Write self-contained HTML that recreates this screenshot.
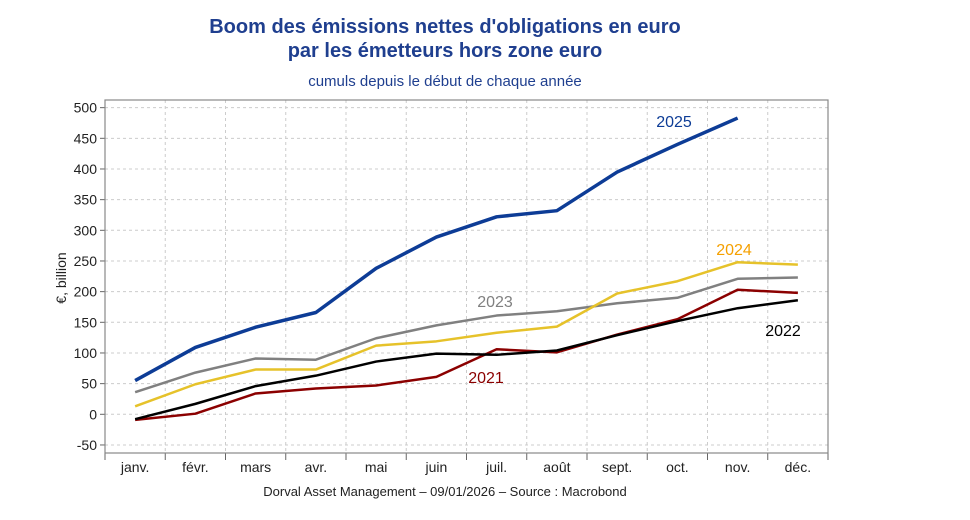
<!DOCTYPE html>
<html><head><meta charset="utf-8"><style>
body{margin:0;background:#fff;}
svg text{font-family:"Liberation Sans",sans-serif;}
</style></head><body>
<svg width="970" height="515" viewBox="0 0 970 515" id="c">
<text x="445" y="33" text-anchor="middle" font-size="20" fill="#1f3f8f" font-weight="bold">Boom des émissions nettes d'obligations en euro</text>
<text x="445" y="57" text-anchor="middle" font-size="20" fill="#1f3f8f" font-weight="bold">par les émetteurs hors zone euro</text>
<text x="445" y="86" text-anchor="middle" font-size="15" fill="#1f3f8f">cumuls depuis le début de chaque année</text>
<text x="445" y="496" text-anchor="middle" font-size="13" fill="#222">Dorval Asset Management – 09/01/2026 –   Source : Macrobond</text>
<text transform="translate(66,278) rotate(-90)" text-anchor="middle" font-size="14" fill="#222">€, billion</text>
<g id="grid"></g><g id="lines"></g>
<rect x="105" y="100" width="723" height="353" fill="none" stroke="#888" stroke-width="1.2"/>
<text x="674" y="127" text-anchor="middle" font-size="16" fill="#0d3c96">2025</text>
<text x="734" y="255" text-anchor="middle" font-size="16" fill="#f5a000">2024</text>
<text x="495" y="307" text-anchor="middle" font-size="16" fill="#808080">2023</text>
<text x="783" y="336" text-anchor="middle" font-size="16" fill="#000">2022</text>
<text x="486" y="383" text-anchor="middle" font-size="16" fill="#8b0000">2021</text>
</svg>
<script>
const months=["janv.","févr.","mars","avr.","mai","juin","juil.","août","sept.","oct.","nov.","déc."];
const yTicks=[-50,0,50,100,150,200,250,300,350,400,450,500];
const s2021=[-9,1,34,42,47,61,106,101,130,155,203,198];
const s2022=[-8,17,46,63,86,99,97,104,129,152,173,186];
const s2023=[36,68,91,89,124,145,161,168,181,190,221,223];
const s2024=[13,49,73,73,112,119,133,143,197,217,248,244];
const s2025=[55,109,142,166,238,289,322,332,395,440,483];
const NS="http://www.w3.org/2000/svg";
const L=105,R=828,T=100,B=453,bw=(R-L)/12;
const x=i=>L+bw*(i+0.5);
const y=v=>414.3-v*0.6133;
const grid=document.getElementById('grid'),lines=document.getElementById('lines');
function mk(tag,a,p){const e=document.createElementNS(NS,tag);for(const k in a)e.setAttribute(k,a[k]);p.appendChild(e);return e;}
yTicks.forEach(v=>{
 const g=mk('line',{x1:L,x2:R,y1:y(v),y2:y(v),stroke:"#ccc","stroke-dasharray":"3,3"},grid);
 
 
 mk('line',{x1:L-5,x2:L,y1:y(v),y2:y(v),stroke:"#666"},grid);
 const t=mk('text',{x:L-8,y:y(v)+5,"text-anchor":"end","font-size":"14",fill:"#222"},grid);t.textContent=v;
 
 
});
for(let k=1;k<12;k++){
 const g=mk('line',{x1:L+bw*k,x2:L+bw*k,y1:T,y2:B,stroke:"#ccc","stroke-dasharray":"3,3"},grid);
 
 
}
for(let k=0;k<=12;k++){mk('line',{x1:L+bw*k,x2:L+bw*k,y1:B,y2:B+7,stroke:"#666"},grid);}
months.forEach((m,i)=>{
 const t=mk('text',{x:x(i),y:472,"text-anchor":"middle","font-size":"14",fill:"#222"},grid);t.textContent=m;
 
 
});
[[s2023,"#808080",2.5,"line-2023"],[s2024,"#e6c22a",2.5,"line-2024"],[s2021,"#8b0000",2.5,"line-2021"],[s2022,"#000",2.5,"line-2022"],[s2025,"#0d3c96",3.5,"line-2025"]].forEach(([d,c,w,n])=>{
 const p=mk('polyline',{points:d.map((v,i)=>x(i)+","+y(v)).join(" "),fill:"none",stroke:c,"stroke-width":w,"stroke-linejoin":"round"},lines);
 
 
});
</script>
</body></html>
